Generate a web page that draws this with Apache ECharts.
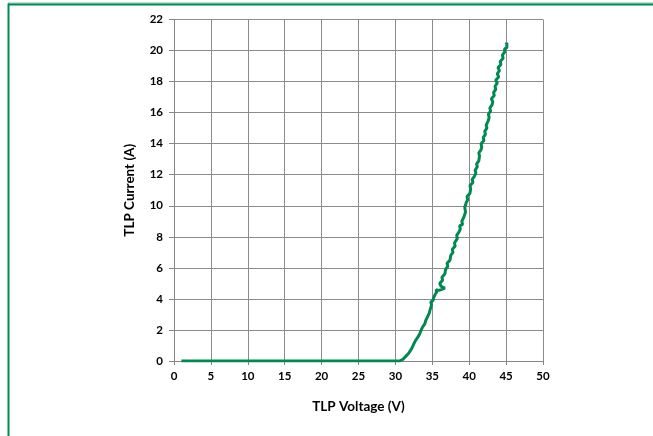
<!DOCTYPE html>
<html><head><meta charset="utf-8">
<script src="https://cdn.jsdelivr.net/npm/echarts@6/dist/echarts.min.js"></script>
<style>html,body{margin:0;padding:0;background:#fff}#c{width:653px;height:436px}</style>
</head><body><div id="c"></div>
<script>
const voltage = [1,5,10,15,20,25,30,30.6,31.0,31.4,31.8,31.9,32.2,32.1,32.5,32.7,33.0,32.9,33.3,33.5,33.7,33.6,34.0,34.1,34.3,34.2,34.6,34.7,34.9,34.8,35.1,35.2,35.0,35.4,35.6,35.5,35.9,36.2,36.7,36.2,36.0,36.4,36.3,36.7,36.8,37.1,37.0,37.4,37.5,37.8,37.7,38.1,38.0,38.4,38.3,38.6,38.8,38.7,39.1,39.0,39.3,39.5,39.4,39.6,39.8,39.7,40.1,40.2,40.1,40.5,40.4,40.7,40.9,40.8,41.1,41.0,41.3,41.4,41.3,41.6,41.7,41.6,42.0,41.9,42.2,42.1,42.4,42.3,42.6,42.7,42.6,42.9,42.8,43.1,43.2,43.0,43.4,43.3,43.6,43.5,43.8,43.6,44.0,43.8,44.1,43.9,44.3,44.2,44.6,44.5,44.8,45.0,44.8,45.1,44.9,45.1,45.0];
const current = [0,0,0,0,0,0,0,0,0.1,0.3,0.5,0.6,0.8,0.9,1.1,1.3,1.5,1.6,1.75,2.0,2.2,2.3,2.4,2.6,2.8,2.9,3.1,3.3,3.6,3.8,3.9,4.1,4.2,4.3,4.45,4.6,4.55,4.6,4.7,4.8,5.0,5.2,5.4,5.6,5.9,6.1,6.3,6.5,6.8,7.0,7.2,7.4,7.6,7.9,8.1,8.3,8.5,8.7,8.8,9.0,9.3,9.6,9.9,10.2,10.4,10.6,10.8,11.1,11.3,11.5,11.7,11.9,12.1,12.3,12.5,12.7,12.9,13.2,13.4,13.6,13.8,14.0,14.2,14.4,14.6,14.8,15.0,15.2,15.5,15.7,15.9,16.1,16.3,16.5,16.7,16.9,17.1,17.3,17.5,17.7,17.9,18.1,18.3,18.5,18.7,18.9,19.1,19.3,19.5,19.7,19.9,20.0,20.1,20.2,20.3,20.5,20.4];
const xTitle = 'TLP Voltage (V)';
const yTitle = 'TLP Current (A)';

const font = 'Lato, "Open Sans", sans-serif';
const chart = echarts.init(document.getElementById('c'), null, {renderer:'canvas'});
const lbl = {fontFamily: font, fontWeight: 'bold', fontSize: 11.5, color: '#000'};
chart.setOption({
  animation: false,
  graphic: [
    {type:'line', shape:{x1:8, y1:3, x2:653, y2:3}, style:{stroke:'#7cc7a4', lineWidth:1}, silent:true},
    {type:'line', shape:{x1:8, y1:4.5, x2:653, y2:4.5}, style:{stroke:'#008a52', lineWidth:2}, silent:true},
    {type:'line', shape:{x1:8.5, y1:3.5, x2:8.5, y2:436}, style:{stroke:'#008a52', lineWidth:2}, silent:true}
  ],
  grid: {left:174, right:110, top:19.5, bottom:75, containLabel:false},
  xAxis: {
    type:'value', min:0, max:50, interval:5,
    name: xTitle, nameLocation:'middle', nameGap:39,
    nameTextStyle: {fontFamily: font, fontWeight:'bold', fontSize:13.5, color:'#000'},
    axisLine:{onZero:false, lineStyle:{color:'#868686', width:1}},
    axisTick:{show:true, length:4, lineStyle:{color:'#868686'}},
    axisLabel: Object.assign({margin:9}, lbl),
    splitLine:{show:true, lineStyle:{color:'#8c8c8c', width:1}}
  },
  yAxis: {
    type:'value', min:0, max:22, interval:2,
    name: yTitle, nameLocation:'middle', nameGap:37, nameRotate:90,
    nameTextStyle: {fontFamily: font, fontWeight:'bold', fontSize:13.5, color:'#000'},
    axisLine:{show:true, lineStyle:{color:'#868686', width:1}},
    axisTick:{show:true, length:5, lineStyle:{color:'#868686'}},
    axisLabel: Object.assign({margin:11}, lbl),
    splitLine:{show:true, lineStyle:{color:'#8c8c8c', width:1}}
  },
  series: [{
    type:'line',
    data: voltage.map((v,i)=>[v, current[i]]),
    showSymbol:false, smooth:false,
    lineStyle:{color:'#008a52', width:3},
    itemStyle:{color:'#008a52'}
  }]
});
</script></body></html>
